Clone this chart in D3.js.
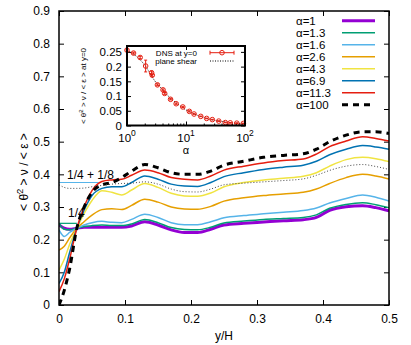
<!DOCTYPE html>
<html>
<head>
<meta charset="utf-8">
<script src="https://cdn.jsdelivr.net/npm/d3@7"></script>
<style>
body { margin: 0; background: #fff; }
text { font-family: "Liberation Sans", Arial, sans-serif; fill: #000; }
</style>
</head>
<body>
<svg width="411" height="345"></svg>
<script>
// y/H positions where the curves were read
var yH = [0, 0.008, 0.016, 0.027, 0.038, 0.05, 0.065, 0.08, 0.095, 0.11, 0.13, 0.15, 0.17, 0.19, 0.21, 0.23, 0.25, 0.28, 0.31, 0.34, 0.37, 0.39, 0.41, 0.435, 0.46, 0.48, 0.5];

var alpha1   = [0.245, 0.235, 0.232, 0.235, 0.238, 0.238, 0.238, 0.238, 0.238, 0.242, 0.255, 0.245, 0.23, 0.222, 0.222, 0.232, 0.245, 0.25, 0.254, 0.258, 0.261, 0.268, 0.29, 0.301, 0.304, 0.298, 0.288];
var alpha1_3 = [0.25, 0.232, 0.23, 0.235, 0.24, 0.243, 0.245, 0.243, 0.243, 0.248, 0.262, 0.252, 0.237, 0.231, 0.23, 0.238, 0.251, 0.257, 0.262, 0.265, 0.268, 0.276, 0.296, 0.308, 0.313, 0.307, 0.298];
var alpha1_6 = [0.23, 0.21, 0.222, 0.235, 0.245, 0.252, 0.256, 0.253, 0.252, 0.262, 0.278, 0.268, 0.252, 0.246, 0.246, 0.255, 0.267, 0.274, 0.279, 0.284, 0.289, 0.297, 0.312, 0.326, 0.337, 0.33, 0.318];
var alpha2_6 = [0.168, 0.18, 0.205, 0.235, 0.255, 0.275, 0.292, 0.295, 0.292, 0.305, 0.324, 0.315, 0.3, 0.294, 0.293, 0.302, 0.318, 0.328, 0.335, 0.34, 0.345, 0.355, 0.372, 0.39, 0.4, 0.395, 0.386];
var alpha4_3 = [0.107, 0.14, 0.185, 0.235, 0.28, 0.32, 0.35, 0.345, 0.337, 0.352, 0.372, 0.36, 0.342, 0.334, 0.333, 0.343, 0.362, 0.375, 0.383, 0.388, 0.394, 0.405, 0.425, 0.445, 0.452, 0.448, 0.439];
var alpha6_9 = [0.066, 0.1, 0.16, 0.235, 0.29, 0.335, 0.357, 0.362, 0.362, 0.375, 0.395, 0.385, 0.37, 0.364, 0.363, 0.375, 0.393, 0.405, 0.415, 0.422, 0.428, 0.44, 0.46, 0.477, 0.488, 0.484, 0.477];
var alpha11_3 = [0.041, 0.08, 0.14, 0.235, 0.3, 0.35, 0.378, 0.383, 0.385, 0.397, 0.413, 0.405, 0.39, 0.385, 0.383, 0.395, 0.413, 0.425, 0.435, 0.442, 0.447, 0.462, 0.485, 0.502, 0.515, 0.51, 0.502];
var alpha100 = [0, 0.045, 0.11, 0.235, 0.3, 0.345, 0.368, 0.375, 0.39, 0.41, 0.43, 0.42, 0.405, 0.4, 0.4, 0.41, 0.428, 0.44, 0.452, 0.458, 0.463, 0.477, 0.5, 0.52, 0.53, 0.53, 0.525];
var planeShear = [0.368, 0.36, 0.357, 0.357, 0.358, 0.362, 0.366, 0.37, 0.372, 0.373, 0.377, 0.37, 0.355, 0.347, 0.346, 0.355, 0.368, 0.373, 0.377, 0.381, 0.386, 0.397, 0.412, 0.425, 0.43, 0.424, 0.415];

var seriesNames = ["\u03b1=1", "\u03b1=1.3", "\u03b1=1.6", "\u03b1=2.6", "\u03b1=4.3", "\u03b1=6.9", "\u03b1=11.3", "\u03b1=100"];
var seriesValues = [alpha1, alpha1_3, alpha1_6, alpha2_6, alpha4_3, alpha6_9, alpha11_3, alpha100];

// reference levels 1/4 and 1/4 + 1/8
var refLevels = [0.25, 0.375];
var refEnds = [0.027, 0.06];

// inset: value at the wall vs alpha
var dnsAlpha = [1, 1.29, 1.67, 2.07, 2.61, 2.68, 3.28, 4.08, 4.35, 5.47, 6.81, 8.83, 11.4, 13.7, 17.8, 22.4, 27.9, 35.9, 46.4, 56.2, 72.6, 93.7];
var dnsValue = [0.256, 0.246, 0.231, 0.202, 0.179, 0.171, 0.138, 0.121, 0.109, 0.089, 0.074, 0.063, 0.048, 0.039, 0.031, 0.024, 0.02, 0.015, 0.010, 0.009, 0.008, 0.007];
var dnsError = [0.003, 0.003, 0.004, 0.02, 0.006, 0.004, 0.003, 0.003, 0.003, 0.002, 0.002, 0.002, 0.002, 0.001, 0.001, 0.001, 0.001, 0.001, 0.001, 0.001, 0.001, 0.001];
var shearAlpha = [1, 1.5, 2, 3, 4, 5, 7, 10, 15, 20, 30, 50, 70, 100];
var shearValue = [0.255, 0.232, 0.205, 0.15, 0.122, 0.1, 0.075, 0.053, 0.036, 0.027, 0.018, 0.011, 0.008, 0.006];

var xTicks = [0, 0.1, 0.2, 0.3, 0.4, 0.5];
var yTicks = [0, 0.1, 0.2, 0.3, 0.4, 0.5, 0.6, 0.7, 0.8, 0.9];
var insetYTicks = [0, 0.05, 0.1, 0.15, 0.2, 0.25];
var insetXTicks = [1, 10, 100];

var colors = ["#9400d3", "#009e73", "#56b4e9", "#e69f00", "#f0e442", "#0072b2", "#e51e10", "#000000"];
var widths = [3, 1.5, 1.5, 1.5, 1.5, 1.5, 1.5, 3];

var svg = d3.select("svg");

var x = d3.scaleLinear().domain([0, 0.5]).range([59, 389]);
var y = d3.scaleLinear().domain([0, 0.9]).range([305, 11]);

svg.append("clipPath").attr("id", "clip")
	.append("rect").attr("x", 59).attr("y", 11).attr("width", 330).attr("height", 294);

// axes with inward ticks, mirrored on top/right
function styleAxis(g) {
	g.select(".domain").remove();
	g.selectAll("line").attr("stroke", "#000");
	g.selectAll("text").attr("font-size", 12);
}
svg.append("g").attr("transform", "translate(59,0)")
	.call(d3.axisLeft(y).tickValues(yTicks).tickSizeInner(-5).tickSizeOuter(0).tickPadding(9).tickFormat(function(d) { return String(d); }))
	.call(styleAxis);
svg.append("g").attr("transform", "translate(389,0)")
	.call(d3.axisRight(y).tickValues(yTicks).tickSizeInner(-5).tickSizeOuter(0).tickFormat(""))
	.call(styleAxis);
svg.append("g").attr("transform", "translate(0,305)")
	.call(d3.axisBottom(x).tickValues(xTicks).tickSizeInner(-5).tickSizeOuter(0).tickPadding(9).tickFormat(function(d) { return String(d); }))
	.call(styleAxis);
svg.append("g").attr("transform", "translate(0,11)")
	.call(d3.axisTop(x).tickValues(xTicks).tickSizeInner(-5).tickSizeOuter(0).tickFormat(""))
	.call(styleAxis);

var plot = svg.append("g").attr("clip-path", "url(#clip)");

// short reference lines
refLevels.forEach(function(v, i) {
	plot.append("line")
		.attr("x1", x(0)).attr("x2", x(refEnds[i]))
		.attr("y1", y(v)).attr("y2", y(v))
		.attr("stroke", i == 0 ? colors[1] : colors[2]).attr("stroke-width", 1.2);
});

var line = d3.line()
	.x(function(d) { return x(d[0]); })
	.y(function(d) { return y(d[1]); })
	.curve(d3.curveMonotoneX);

seriesValues.forEach(function(vals, i) {
	plot.append("path")
		.datum(yH.map(function(h, j) { return [h, vals[j]]; }))
		.attr("d", line)
		.attr("fill", "none")
		.attr("stroke", colors[i])
		.attr("stroke-width", widths[i])
		.attr("stroke-dasharray", i == 7 ? "6,5" : null);
});

plot.append("path")
	.datum(yH.map(function(h, j) { return [h, planeShear[j]]; }))
	.attr("d", line)
	.attr("fill", "none")
	.attr("stroke", "#444")
	.attr("stroke-width", 1)
	.attr("stroke-dasharray", "1,2");

svg.append("rect").attr("x", 59).attr("y", 11).attr("width", 330).attr("height", 294)
	.attr("fill", "none").attr("stroke", "#000").attr("stroke-width", 1.5);

// text labels
svg.append("text").attr("x", 67).attr("y", 179).attr("font-size", 12).text("1/4 + 1/8");
svg.append("text").attr("x", 68).attr("y", 217).attr("font-size", 12).text("1/4");
svg.append("text").attr("x", 224).attr("y", 340).attr("font-size", 12).attr("text-anchor", "middle").text("y/H");

var yl = svg.append("text").attr("transform", "translate(28,172) rotate(-90)")
	.attr("font-size", 12).attr("text-anchor", "middle");
yl.append("tspan").text("< \u03b8\u0307");
yl.append("tspan").attr("dy", -5).attr("font-size", 9).text("2");
yl.append("tspan").attr("dy", 5).text(" > \u03bd / < \u03b5 >");

// legend
var legend = svg.append("g");
seriesNames.forEach(function(name, i) {
	var ly = 20.7 + 12 * i;
	legend.append("text").attr("x", 296).attr("y", ly + 4).attr("font-size", 11.5).text(name);
	legend.append("line").attr("x1", 342).attr("x2", 375).attr("y1", ly).attr("y2", ly)
		.attr("stroke", colors[i]).attr("stroke-width", widths[i])
		.attr("stroke-dasharray", i == 7 ? "6,5" : null);
});

// inset
var xi = d3.scaleLog().domain([1, 100]).range([127, 245]);
var yi = d3.scaleLinear().domain([0, 0.27]).range([125.5, 46]);
var inset = svg.append("g");

inset.append("rect").attr("x", 127).attr("y", 46).attr("width", 118).attr("height", 79.5)
	.attr("fill", "#fff");

inset.append("g").attr("transform", "translate(127,0)")
	.call(d3.axisLeft(yi).tickValues(insetYTicks).tickSizeInner(-4).tickSizeOuter(0).tickPadding(5).tickFormat(function(d) { return String(d); }))
	.call(styleAxis)
	.selectAll("text").attr("font-size", 11.5);
inset.append("g").attr("transform", "translate(245,0)")
	.call(d3.axisRight(yi).tickValues(insetYTicks).tickSizeInner(-4).tickSizeOuter(0).tickFormat(""))
	.call(styleAxis);
inset.append("g").attr("transform", "translate(0,125.5)")
	.call(d3.axisBottom(xi).tickValues([2, 3, 4, 5, 6, 7, 8, 9, 20, 30, 40, 50, 60, 70, 80, 90]).tickSizeInner(-2).tickSizeOuter(0).tickFormat(""))
	.call(styleAxis);
inset.append("g").attr("transform", "translate(0,125.5)")
	.call(d3.axisBottom(xi).tickValues(insetXTicks).tickSizeInner(-4).tickSizeOuter(0).tickFormat(""))
	.call(styleAxis);
inset.append("g").attr("transform", "translate(0,46)")
	.call(d3.axisTop(xi).tickValues(insetXTicks).tickSizeInner(-4).tickSizeOuter(0).tickFormat(""))
	.call(styleAxis);

insetXTicks.forEach(function(t, i) {
	var tx = inset.append("text").attr("x", xi(t)).attr("y", 141.5).attr("font-size", 11.5).attr("text-anchor", "middle");
	tx.append("tspan").text("10");
	tx.append("tspan").attr("dy", -5.5).attr("font-size", 8.5).text(String(i));
});
inset.append("text").attr("x", 186).attr("y", 154).attr("font-size", 11).attr("text-anchor", "middle").text("\u03b1");

var iyl = inset.append("text").attr("transform", "translate(86,86) rotate(-90)")
	.attr("font-size", 8).attr("text-anchor", "middle");
iyl.append("tspan").text("< \u03b8\u0307");
iyl.append("tspan").attr("dy", -3).attr("font-size", 6).text("2");
iyl.append("tspan").attr("dy", 3).text(" > \u03bd / < \u03b5 > at y=0");

var insetLine = d3.line()
	.x(function(d) { return xi(d[0]); })
	.y(function(d) { return yi(d[1]); })
	.curve(d3.curveMonotoneX);

inset.append("path")
	.datum(shearAlpha.map(function(a, j) { return [a, shearValue[j]]; }))
	.attr("d", insetLine)
	.attr("fill", "none").attr("stroke", "#000").attr("stroke-width", 1).attr("stroke-dasharray", "1,1.5");

var red = "#e51e10";
dnsAlpha.forEach(function(a, j) {
	var cx = xi(a);
	inset.append("line").attr("x1", cx).attr("x2", cx)
		.attr("y1", yi(dnsValue[j] - dnsError[j])).attr("y2", yi(dnsValue[j] + dnsError[j]))
		.attr("stroke", red).attr("stroke-width", 1);
	[-1, 1].forEach(function(s) {
		inset.append("line").attr("x1", cx - 1.5).attr("x2", cx + 1.5)
			.attr("y1", yi(dnsValue[j] + s * dnsError[j])).attr("y2", yi(dnsValue[j] + s * dnsError[j]))
			.attr("stroke", red).attr("stroke-width", 1);
	});
	inset.append("circle").attr("cx", cx).attr("cy", yi(dnsValue[j])).attr("r", 2.3)
		.attr("fill", "none").attr("stroke", red).attr("stroke-width", 1);
});

// inset legend
inset.append("text").attr("x", 197).attr("y", 55.5).attr("font-size", 8).attr("text-anchor", "end").text("DNS at y=0");
inset.append("text").attr("x", 197).attr("y", 64).attr("font-size", 8).attr("text-anchor", "end").text("plane shear");
inset.append("line").attr("x1", 210).attr("x2", 234).attr("y1", 52.7).attr("y2", 52.7).attr("stroke", red);
[210, 234].forEach(function(ex) {
	inset.append("line").attr("x1", ex).attr("x2", ex).attr("y1", 50.7).attr("y2", 54.7).attr("stroke", red);
});
inset.append("circle").attr("cx", 222).attr("cy", 52.7).attr("r", 2.3).attr("fill", "none").attr("stroke", red);
inset.append("line").attr("x1", 210).attr("x2", 234).attr("y1", 61).attr("y2", 61)
	.attr("stroke", "#000").attr("stroke-dasharray", "1,1.5");

inset.append("rect").attr("x", 127).attr("y", 46).attr("width", 118).attr("height", 79.5)
	.attr("fill", "none").attr("stroke", "#000").attr("stroke-width", 2);
</script>
</body>
</html>
